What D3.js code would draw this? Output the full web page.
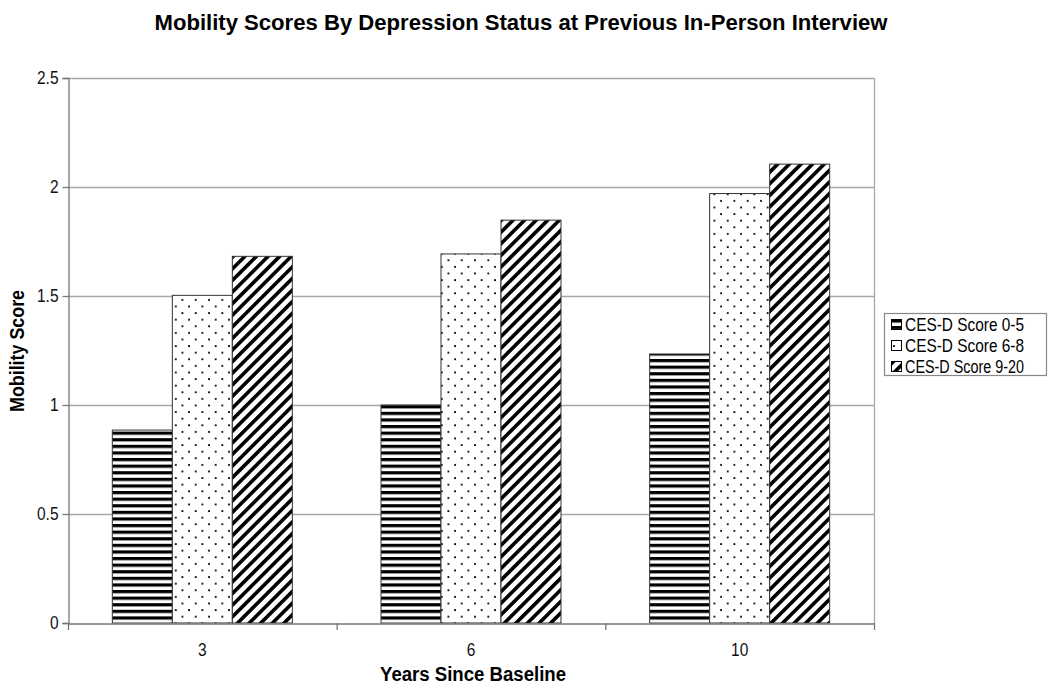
<!DOCTYPE html>
<html><head><meta charset="utf-8">
<script src="https://cdn.jsdelivr.net/npm/d3@7"></script>
<style>body{margin:0;background:#fff;} svg{display:block;font-family:"Liberation Sans",Arial,sans-serif;}</style>
</head><body><svg id="c" width="1050" height="692"></svg>
<script>
const categories = ["3", "6", "10"];
const seriesNames = ["CES-D Score 0-5", "CES-D Score 6-8", "CES-D Score 9-20"];
const score0to5 = [0.885, 1.0, 1.234];
const score6to8 = [1.503, 1.693, 1.970];
const score9to20 = [1.682, 1.848, 2.105];
const yTicks = [0, 0.5, 1, 1.5, 2, 2.5];
const yTickLabels = ["0", "0.5", "1", "1.5", "2", "2.5"];

const svg = d3.select("#c");
const M = {left: 68, right: 874, top: 78, bottom: 623};
const seriesVals = [score0to5, score6to8, score9to20];
const patIds = ["pHoriz", "pDots", "pDiag"];
const STRETCH = 1.15;

// patterns
const defs = svg.append("defs");
const p1 = defs.append("pattern").attr("id", "pHoriz").attr("patternUnits", "userSpaceOnUse")
  .attr("width", 8).attr("height", 6.6).attr("y", M.bottom);
p1.append("rect").attr("width", 8).attr("height", 6.6).attr("fill", "#fff");
p1.append("rect").attr("y", 0).attr("width", 8).attr("height", 3.2).attr("fill", "#000");

const p2 = defs.append("pattern").attr("id", "pDots").attr("patternUnits", "userSpaceOnUse")
  .attr("width", 13.3).attr("height", 13.2);
p2.append("rect").attr("width", 13.3).attr("height", 13.2).attr("fill", "#fff");
p2.append("rect").attr("x", 2).attr("y", 2).attr("width", 1.8).attr("height", 1.8).attr("fill", "#000");
p2.append("rect").attr("x", 8.65).attr("y", 8.6).attr("width", 1.8).attr("height", 1.8).attr("fill", "#000");

const p3 = defs.append("pattern").attr("id", "pDiag").attr("patternUnits", "userSpaceOnUse")
  .attr("width", 8.2).attr("height", 8.2).attr("patternTransform", "rotate(45)");
p3.append("rect").attr("width", 8.2).attr("height", 8.2).attr("fill", "#fff");
p3.append("rect").attr("x", 0).attr("width", 3.6).attr("height", 8.2).attr("fill", "#000");

const x = d3.scaleBand().domain(categories).range([M.left, M.right]).padding(0);
const bw = x.bandwidth();
const gap = bw * 0.165;
const xs = d3.scaleBand().domain(d3.range(3)).range([gap, bw - gap]).padding(0);
const y = d3.scaleLinear().domain([0, 2.5]).range([M.bottom, M.top]);

// gridlines
svg.append("g").selectAll("line").data(yTicks.filter(d => d > 0)).join("line")
  .attr("x1", M.left).attr("x2", M.right)
  .attr("y1", d => y(d) + 0.5).attr("y2", d => y(d) + 0.5)
  .attr("stroke", "#a8a8a8").attr("stroke-width", 1.3);
// right border
svg.append("line").attr("x1", M.right + 0.5).attr("x2", M.right + 0.5)
  .attr("y1", M.top).attr("y2", M.bottom).attr("stroke", "#a8a8a8").attr("stroke-width", 1.3);

// bars
categories.forEach((c, ci) => {
  seriesVals.forEach((vals, si) => {
    svg.append("rect")
      .attr("x", x(c) + xs(si)).attr("width", xs.bandwidth())
      .attr("y", y(vals[ci])).attr("height", y(0) - y(vals[ci]))
      .attr("fill", `url(#${patIds[si]})`)
      .attr("stroke", "#333").attr("stroke-width", 1);
  });
});

// y axis
const yAxis = svg.append("g").attr("transform", `translate(${M.left + 0.5},0)`)
  .call(d3.axisLeft(y).tickValues(yTicks).tickFormat((d, i) => yTickLabels[i]).tickSize(6).tickPadding(4));
yAxis.select(".domain").attr("stroke", "#777").attr("stroke-width", 1.3);
yAxis.selectAll(".tick line").attr("stroke", "#777").attr("stroke-width", 1.3);
yAxis.selectAll("text").attr("font-size", 15.5).attr("fill", "#111")
  .attr("font-family", "Liberation Sans, Arial").attr("transform", `scale(1,${STRETCH})`);

// x axis
const xAxis = svg.append("g").attr("transform", `translate(0,${M.bottom + 0.5})`)
  .call(d3.axisBottom(x).tickSize(0).tickPadding(17));
xAxis.select(".domain").attr("stroke", "#777").attr("stroke-width", 1.3);
xAxis.selectAll("text").attr("font-size", 15.5).attr("fill", "#111")
  .attr("font-family", "Liberation Sans, Arial").attr("transform", `scale(1,${STRETCH})`);
// tick marks at band boundaries
const bounds = categories.map(c => x(c)).concat([x(categories[categories.length - 1]) + bw]);
svg.append("g").selectAll("line").data(bounds).join("line")
  .attr("x1", d => d + 0.5).attr("x2", d => d + 0.5)
  .attr("y1", M.bottom).attr("y2", M.bottom + 7)
  .attr("stroke", "#777").attr("stroke-width", 1.3);

// title (vertically stretched like the original)
svg.append("text").attr("transform", "translate(521,30) scale(1,1.18)").attr("text-anchor", "middle")
  .attr("font-size", 19).attr("font-weight", "bold").attr("fill", "#000")
  .attr("textLength", 733).attr("lengthAdjust", "spacingAndGlyphs")
  .text("Mobility Scores By Depression Status at Previous In-Person Interview");

// axis titles
svg.append("text").attr("transform", "translate(473,681) scale(1,1.1)").attr("text-anchor", "middle")
  .attr("font-size", 18).attr("font-weight", "bold").attr("fill", "#000")
  .attr("textLength", 186).attr("lengthAdjust", "spacingAndGlyphs")
  .text("Years Since Baseline");
svg.append("text").attr("transform", "translate(24,351) rotate(-90) scale(1,1.1)").attr("text-anchor", "middle")
  .attr("font-size", 18).attr("font-weight", "bold").attr("fill", "#000")
  .attr("textLength", 122).attr("lengthAdjust", "spacingAndGlyphs")
  .text("Mobility Score");

// legend
const lg = svg.append("g");
lg.append("rect").attr("x", 884.5).attr("y", 313.5).attr("width", 162).attr("height", 62)
  .attr("fill", "#fff").attr("stroke", "#888").attr("stroke-width", 1.2);
seriesNames.forEach((n, i) => {
  const cy = 325 + i * 21;
  lg.append("rect").attr("x", 891.5).attr("y", cy - 5.5).attr("width", 10).attr("height", 10)
    .attr("fill", `url(#${patIds[i]})`).attr("stroke", "#000").attr("stroke-width", 1);
  lg.append("text").attr("transform", `translate(905,${cy + 6}) scale(1,${STRETCH})`)
    .attr("font-size", 15.5).attr("fill", "#000")
    .attr("textLength", 119).attr("lengthAdjust", "spacingAndGlyphs").text(n);
});
</script></body></html>
